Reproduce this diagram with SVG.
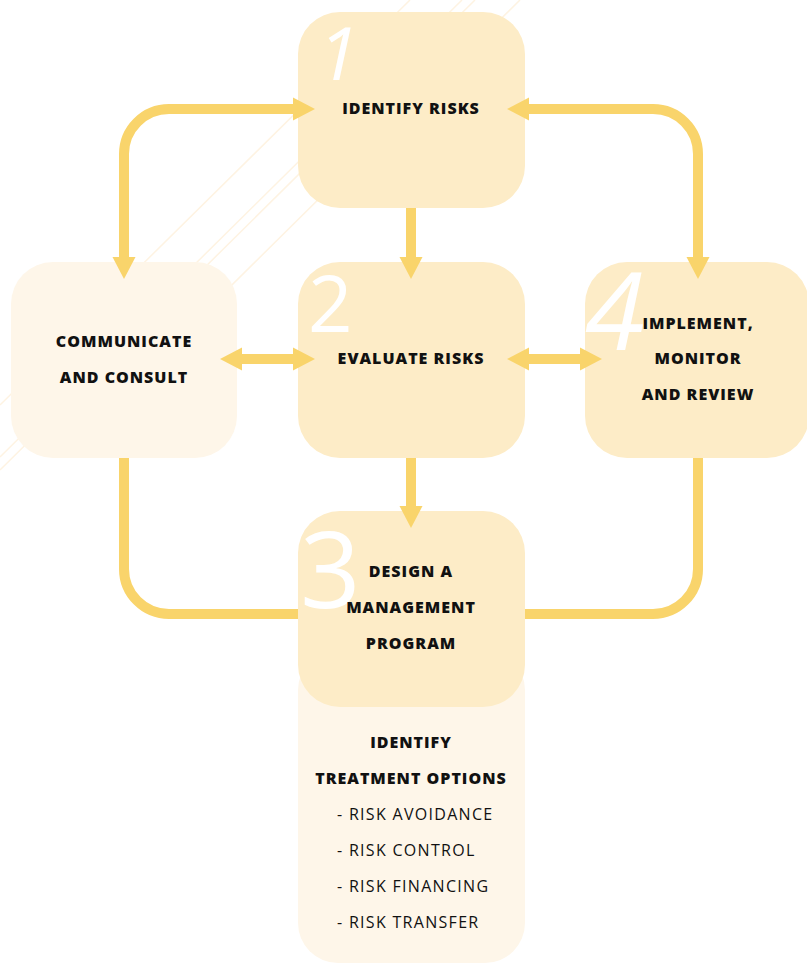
<svg xmlns="http://www.w3.org/2000/svg" width="807" height="964" viewBox="0 0 807 964">
<style>
.box{fill:#fdecc7}
.light{fill:#fef6e9}
.lbl{font-family:"Open Sans","Liberation Sans",sans-serif;font-weight:800;font-size:16px;letter-spacing:1px;fill:#111;text-anchor:middle}
.item{font-family:"Open Sans","Liberation Sans",sans-serif;font-weight:400;font-size:16px;letter-spacing:1.3px;fill:#111}
.num{font-family:"Open Sans","Liberation Sans",sans-serif;font-weight:400;fill:#fff}
.con{fill:none;stroke:#f9d46b;stroke-width:10}
.deco{stroke:#fef3e2;stroke-width:1.5;fill:none}
</style>
<defs>
<marker id="ah" markerUnits="userSpaceOnUse" markerWidth="24" markerHeight="24" viewBox="0 -12 24 24" refX="1" refY="0" orient="auto-start-reverse" overflow="visible">
<path d="M0,-11.5 L22,0 L0,11.5 z" fill="#f9d46b"/>
</marker>
</defs>
<rect width="807" height="964" fill="#fff"/>
<g id="decor">
<line class="deco" x1="475" y1="0" x2="0" y2="470"/>
<line class="deco" x1="462" y1="0" x2="0" y2="457"/>
<line class="deco" x1="410" y1="0" x2="0" y2="405"/>
<line class="deco" x1="520" y1="0" x2="60" y2="455"/>
</g>
<g id="node-communicate">
<rect class="light" x="11" y="262" width="226" height="196" rx="42"/>
<text class="lbl" x="124" y="347">COMMUNICATE</text>
<text class="lbl" x="124" y="383">AND CONSULT</text>
</g>
<g id="node-design-extension">
<rect class="light" x="298" y="650" width="227" height="313" rx="40"/>
<text class="lbl" x="411" y="748">IDENTIFY</text>
<text class="lbl" x="411" y="784">TREATMENT OPTIONS</text>
<text class="item" x="337" y="820">- RISK AVOIDANCE</text>
<text class="item" x="337" y="856">- RISK CONTROL</text>
<text class="item" x="337" y="892">- RISK FINANCING</text>
<text class="item" x="337" y="928">- RISK TRANSFER</text>
</g>
<g id="node-identify">
<rect class="box" x="298" y="12" width="227" height="196" rx="42"/>
<text class="num" x="318" y="80" font-size="74" font-style="italic">1</text>
<text class="lbl" x="411" y="114">IDENTIFY RISKS</text>
</g>
<g id="node-evaluate">
<rect class="box" x="298" y="262" width="227" height="196" rx="42"/>
<text class="num" x="308" y="332" font-size="78">2</text>
<text class="lbl" x="411" y="364">EVALUATE RISKS</text>
</g>
<g id="node-implement">
<rect class="box" x="585" y="262" width="224" height="196" rx="42"/>
<text class="num" x="585" y="350" font-size="108" font-style="italic">4</text>
<text class="lbl" x="698" y="329">IMPLEMENT,</text>
<text class="lbl" x="698" y="364">MONITOR</text>
<text class="lbl" x="698" y="400">AND REVIEW</text>
</g>
<g id="node-design">
<rect class="box" x="298" y="511" width="227" height="196" rx="42"/>
<text class="num" x="300" y="608" font-size="106">3</text>
<text class="lbl" x="411" y="577">DESIGN A</text>
<text class="lbl" x="411" y="613">MANAGEMENT</text>
<text class="lbl" x="411" y="649">PROGRAM</text>
</g>
<g id="connectors">
<path class="con" d="M124,258 V154 A45,45 0 0 1 169,109 H294" marker-start="url(#ah)" marker-end="url(#ah)"/>
<path class="con" d="M528,109 H653 A45,45 0 0 1 698,154 V258" marker-start="url(#ah)" marker-end="url(#ah)"/>
<path class="con" d="M411,208 V258" marker-end="url(#ah)"/>
<path class="con" d="M241,359 H294" marker-start="url(#ah)" marker-end="url(#ah)"/>
<path class="con" d="M528,359 H581" marker-start="url(#ah)" marker-end="url(#ah)"/>
<path class="con" d="M411,458 V507" marker-end="url(#ah)"/>
<path class="con" d="M124,458 V569 A45,45 0 0 0 169,614 H298"/>
<path class="con" d="M698,458 V569 A45,45 0 0 1 653,614 H525"/>
</g>
</svg>
